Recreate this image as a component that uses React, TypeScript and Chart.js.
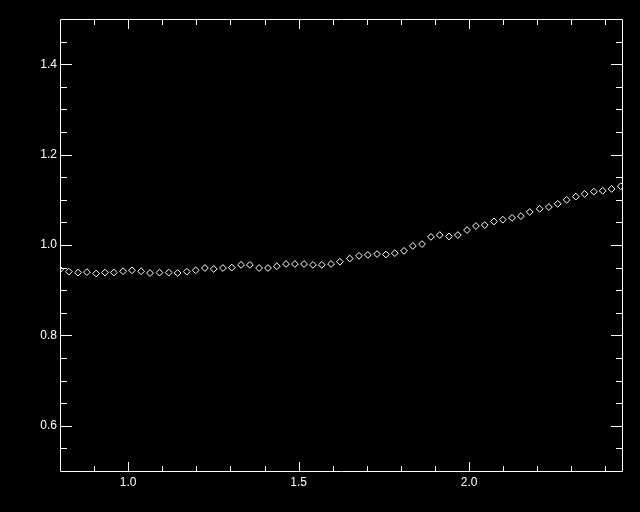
import React, { useEffect, useRef } from "react";
import { Chart, registerables } from "chart.js";

Chart.register(...registerables);

// Data
const xValues = [
  0.800, 0.826, 0.853, 0.879, 0.906, 0.932, 0.958, 0.985, 1.011, 1.038,
  1.064, 1.092, 1.119, 1.145, 1.172, 1.198, 1.225, 1.251, 1.278, 1.304,
  1.331, 1.357, 1.384, 1.410, 1.436, 1.463, 1.489, 1.516, 1.542, 1.568,
  1.595, 1.621, 1.650, 1.677, 1.703, 1.730, 1.756, 1.782, 1.809, 1.835,
  1.862, 1.888, 1.914, 1.941, 1.967, 1.994, 2.020, 2.046, 2.073, 2.099,
  2.126, 2.152, 2.178, 2.207, 2.234, 2.260, 2.286, 2.313, 2.339, 2.366,
  2.392, 2.418, 2.445,
];
const yValues = [
  0.946, 0.941, 0.939, 0.940, 0.937, 0.939, 0.939, 0.942, 0.944, 0.942,
  0.938, 0.939, 0.939, 0.938, 0.941, 0.944, 0.949, 0.947, 0.949, 0.950,
  0.956, 0.956, 0.949, 0.949, 0.953, 0.958, 0.958, 0.958, 0.956, 0.956,
  0.958, 0.963, 0.970, 0.976, 0.978, 0.980, 0.979, 0.982, 0.987, 0.998,
  1.002, 1.018, 1.022, 1.019, 1.022, 1.033, 1.042, 1.044, 1.052, 1.056,
  1.060, 1.064, 1.073, 1.080, 1.084, 1.091, 1.100, 1.107, 1.113, 1.118,
  1.120, 1.124, 1.130,
];

const xMin = 0.8;
const xMax = 2.45;
const yMin = 0.5;
const yMax = 1.5;

const xMajorTicks = [1.0, 1.5, 2.0];
const xMinorTicks = [0.9, 1.1, 1.2, 1.3, 1.4, 1.6, 1.7, 1.8, 1.9, 2.1, 2.2, 2.3, 2.4];
const yMajorTicks = [0.6, 0.8, 1.0, 1.2, 1.4];
const yMinorTicks = [0.55, 0.65, 0.7, 0.75, 0.85, 0.9, 0.95, 1.05, 1.1, 1.15, 1.25, 1.3, 1.35, 1.45];

const axesPlugin = {
  id: "boxAxes",
  beforeDraw(chart: any) {
    const { ctx, width, height } = chart;
    ctx.save();
    ctx.fillStyle = "#000";
    ctx.fillRect(0, 0, width, height);
    ctx.restore();
  },
  afterDatasetsDraw(chart: any) {
    const { ctx, chartArea: a } = chart;
    const xs = chart.scales.x;
    const ys = chart.scales.y;
    const L = Math.floor(a.left) + 0.5;
    const R = Math.floor(a.right) + 0.5;
    const T = Math.floor(a.top) + 0.5;
    const B = Math.floor(a.bottom) + 0.5;
    ctx.save();
    ctx.strokeStyle = "#fff";
    ctx.lineWidth = 1;
    ctx.beginPath();
    ctx.rect(L, T, R - L, B - T);
    const xTick = (v: number, len: number) => {
      const px = Math.round(xs.getPixelForValue(v)) + 0.5;
      ctx.moveTo(px, B);
      ctx.lineTo(px, B - len);
      ctx.moveTo(px, T);
      ctx.lineTo(px, T + len);
    };
    const yTick = (v: number, len: number) => {
      const py = Math.round(ys.getPixelForValue(v)) + 0.5;
      ctx.moveTo(L, py);
      ctx.lineTo(L + len, py);
      ctx.moveTo(R, py);
      ctx.lineTo(R - len, py);
    };
    xMajorTicks.forEach((v) => xTick(v, 9.5));
    xMinorTicks.forEach((v) => xTick(v, 5.5));
    yMajorTicks.forEach((v) => yTick(v, 11.5));
    yMinorTicks.forEach((v) => yTick(v, 6.5));
    ctx.stroke();
    ctx.restore();
  },
};

export default function App() {
  const canvasRef = useRef<HTMLCanvasElement | null>(null);

  useEffect(() => {
    if (!canvasRef.current) return;
    const chart = new Chart(canvasRef.current, {
      type: "scatter",
      data: {
        datasets: [
          {
            data: xValues.map((x, i) => ({ x, y: yValues[i] })),
            pointStyle: "rectRot",
            pointRadius: 3.4,
            pointBorderWidth: 1,
            pointBorderColor: "#fff",
            pointBackgroundColor: "rgba(0,0,0,0)",
            showLine: false,
            clip: 0,
          } as any,
        ],
      },
      options: {
        animation: false,
        responsive: false,
        devicePixelRatio: 1,
        layout: { padding: { top: 19, right: 17.5, left: 0, bottom: 0 } },
        plugins: { legend: { display: false }, tooltip: { enabled: false } },
        scales: {
          x: {
            type: "linear",
            min: xMin,
            max: xMax,
            grid: { display: false, drawTicks: false },
            border: { display: false },
            afterBuildTicks: (scale: any) => {
              scale.ticks = xMajorTicks.map((v) => ({ value: v }));
            },
            afterFit: (scale: any) => {
              scale.height = 41;
            },
            ticks: {
              color: "#fff",
              padding: 4,
              autoSkip: false,
              maxRotation: 0,
              font: { family: "'Liberation Sans', Arial, sans-serif", size: 12 },
              callback: (v: any) => Number(v).toFixed(1),
            },
          },
          y: {
            type: "linear",
            min: yMin,
            max: yMax,
            grid: { display: false, drawTicks: false },
            border: { display: false },
            afterBuildTicks: (scale: any) => {
              scale.ticks = yMajorTicks.map((v) => ({ value: v }));
            },
            afterFit: (scale: any) => {
              scale.width = 60;
            },
            ticks: {
              color: "#fff",
              padding: 3,
              autoSkip: false,
              font: { family: "'Liberation Sans', Arial, sans-serif", size: 12 },
              callback: (v: any) => Number(v).toFixed(1),
            },
          },
        },
      } as any,
      plugins: [axesPlugin],
    });
    return () => chart.destroy();
  }, []);

  return (
    <div
      style={{
        position: "fixed",
        left: 0,
        top: 0,
        width: 640,
        height: 512,
        background: "#000",
      }}
    >
      <canvas ref={canvasRef} width={640} height={512} style={{ display: "block" }} />
    </div>
  );
}
